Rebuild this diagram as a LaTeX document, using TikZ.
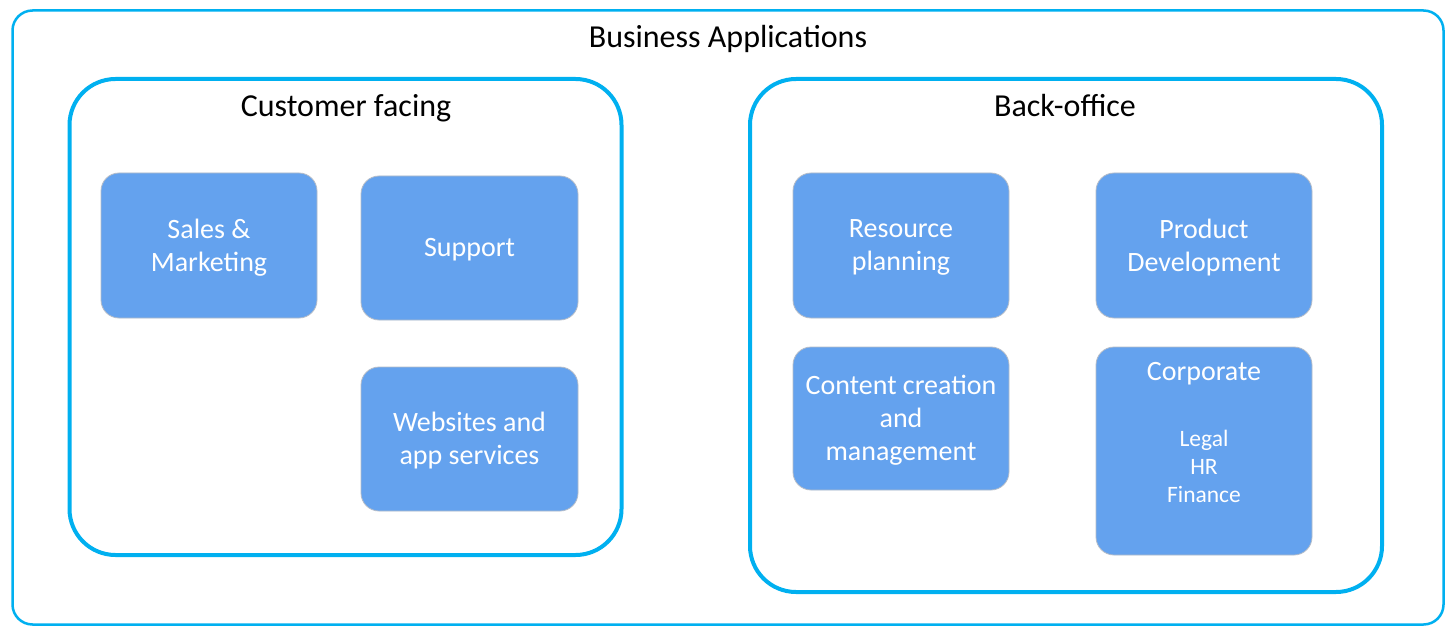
\documentclass[tikz,border=0pt]{standalone}
\usepackage{fontspec}
\setmainfont{Carlito}
\definecolor{cyanline}{HTML}{00B0F0}
\definecolor{boxfill}{HTML}{64A2EE}
\definecolor{boxedge}{HTML}{B4BCC8}
\begin{document}
\begin{tikzpicture}[x=1pt,y=-1pt,
  outer/.style={draw=cyanline,line width=2.5pt,rounded corners=20pt,fill=white},
  group/.style={draw=cyanline,line width=4pt,rounded corners=46pt},
  cell/.style={draw=boxedge,line width=0.8pt,fill=boxfill,rounded corners=18pt},
  celltext/.style={text=white,align=center,font=\fontsize{28}{33}\selectfont,inner sep=0pt},
  title/.style={font=\fontsize{32}{36}\selectfont,inner sep=0pt}]
\useasboundingbox (0,0) rectangle (1455,636);
\fill[white] (0,0) rectangle (1455,636);
\node[outer,minimum width=1431pt,minimum height=614pt] (all) at (728,317.5) {};
\node[group,minimum width=552pt,minimum height=476pt] (cust) at (345.5,317) {};
\node[group,minimum width=632pt,minimum height=513pt] (back) at (1066,335.5) {};
\node[title] (alltitle) at (728,39) {Business Applications};
\node[title] (custtitle) at (346,108) {Customer facing};
\node[title] (backtitle) at (1065,106) {Back-office};
\node[cell,minimum width=216pt,minimum height=145pt] (sales) at (209,245.5) {};
\node[celltext] (salest) at (209,247.5) {Sales \&\\Marketing};
\node[cell,minimum width=217pt,minimum height=144pt] (support) at (469.5,248) {};
\node[celltext] (supportt) at (469.5,250) {Support};
\node[cell,minimum width=217pt,minimum height=144pt] (web) at (469.5,439) {};
\node[celltext] (webt) at (469.5,441) {Websites and\\app services};
\node[cell,minimum width=216pt,minimum height=145pt] (res) at (901,245.5) {};
\node[celltext] (rest) at (901,247.5) {Resource\\planning};
\node[cell,minimum width=216pt,minimum height=145pt] (prod) at (1204,245.5) {};
\node[celltext] (prodt) at (1204,247.5) {Product\\Development};
\node[cell,minimum width=216pt,minimum height=143pt] (content) at (901,418.5) {};
\node[celltext] (contentt) at (901,420.5) {Content creation\\and\\management};
\node[cell,minimum width=216pt,minimum height=208pt] (corp) at (1204,451) {};
\node[celltext] (corptitle) at (1204,374) {Corporate};
\node[text=white,align=center,font=\fontsize{23.5}{28}\selectfont,inner sep=0pt] (corplist) at (1204,466) {Legal\\HR\\Finance};
\end{tikzpicture}
\end{document}
